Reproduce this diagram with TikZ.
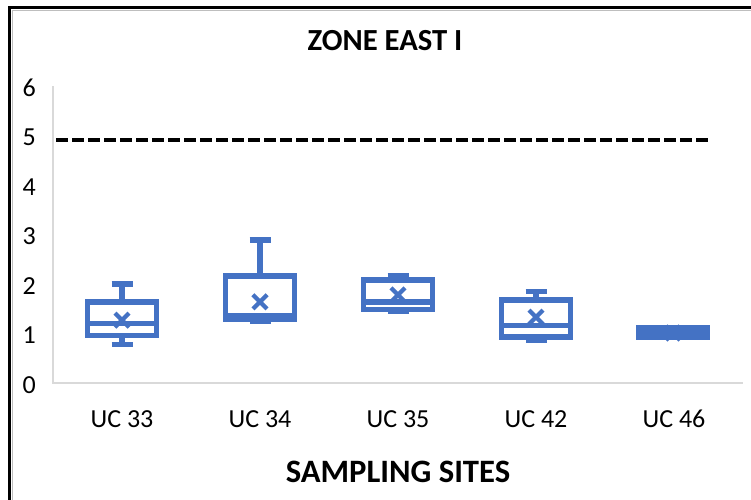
\documentclass[tikz,border=0pt]{standalone}
\usepackage{fontspec}
\setmainfont{Carlito}
\usetikzlibrary{calc}
\definecolor{boxblue}{RGB}{68,114,196}
\definecolor{axisgray}{RGB}{217,217,217}
\definecolor{framegray}{RGB}{190,190,190}

% one box-and-whisker glyph: x, min, q1, median, q3, max, mean
\newcommand\ucbox[7]{%
  \draw[boxline] (#1,#5) -- (#1,#6);
  \draw[boxline] (#1,#3) -- (#1,#2);
  \draw[boxline] (#1-10.5,#6) -- (#1+10.5,#6);
  \draw[boxline] (#1-10.5,#2) -- (#1+10.5,#2);
  \draw[boxline,fill=white] (#1-34.5,#3) rectangle (#1+34.5,#5);
  \draw[boxline] (#1-34.5,#4) -- (#1+34.5,#4);
  \draw[meanmark] (#1,#7) ++(-5.3pt,-5.3pt) -- ++(10.6pt,10.6pt);
  \draw[meanmark] (#1,#7) ++(-5.3pt,5.3pt) -- ++(10.6pt,-10.6pt);
}

\begin{document}
\begin{tikzpicture}[x=0.75pt,y=-0.75pt,
  boxline/.style={draw=boxblue,line width=4.1pt,line join=miter},
  meanmark/.style={draw=boxblue,line width=3.2pt},
  axisline/.style={draw=axisgray,line width=1pt},
  limitline/.style={draw=black,line width=2.9pt,dash pattern=on 9pt off 3pt},
  ticklabel/.style={anchor=base east,inner sep=0pt,font=\fontsize{19.5}{23}\selectfont},
  catlabel/.style={anchor=base,inner sep=0pt,font=\fontsize{19.5}{23}\selectfont},
  titlelabel/.style={anchor=base,inner sep=0pt,font=\fontsize{23}{27}\selectfont\bfseries},
  axistitle/.style={anchor=base,inner sep=0pt,font=\fontsize{24.5}{29}\selectfont\bfseries}]
\useasboundingbox (0,0) rectangle (751,500);
\fill[white] (0,0) rectangle (751,500);

% chart frame (top and left edges)
\draw[framegray,line width=0.75pt] (12,10.5) -- (751,10.5);
\draw[framegray,line width=0.75pt] (12,10.5) -- (12,500);
\draw[black,line width=2.25pt] (751,7.5) -- (9.5,7.5) -- (9.5,500);

% title
\node[titlelabel] (title) at (385,50) {ZONE EAST I};

% plotting area in data units
\begin{scope}[shift={(0,383)},y={(0pt,37.125pt)}]
  \coordinate (origin) at (53,0);
  \coordinate (ytop) at (53,6);
  \coordinate (xend) at (743,0);
  \draw[axisline] (ytop) -- (origin) -- (xend);

  \foreach \v in {0,...,6}
    \node[ticklabel,yshift=-7.5pt] (tick\v) at (36,\v) {\v};

  % limit value
  \coordinate (limA) at (56,4.91);
  \coordinate (limB) at (708,4.91);
  \draw[limitline] (limA) -- (limB);

  % boxes
  \ucbox{122}{0.78}{0.96}{1.20}{1.64}{2.00}{1.27}
  \ucbox{260}{1.24}{1.29}{1.35}{2.16}{2.89}{1.64}
  \ucbox{398}{1.45}{1.49}{1.64}{2.08}{2.17}{1.78}
  \ucbox{536}{0.87}{0.93}{1.16}{1.68}{1.85}{1.33}
  \ucbox{673}{0.92}{0.92}{1.01}{1.11}{1.11}{1.01}
\end{scope}

% category labels
\node[catlabel] (c33) at (122,427) {UC 33};
\node[catlabel] (c34) at (260,427) {UC 34};
\node[catlabel] (c35) at (398,427) {UC 35};
\node[catlabel] (c42) at (536,427) {UC 42};
\node[catlabel] (c46) at (674,427) {UC 46};

% axis title
\node[axistitle] (xtitle) at (398,482) {SAMPLING SITES};
\end{tikzpicture}
\end{document}
